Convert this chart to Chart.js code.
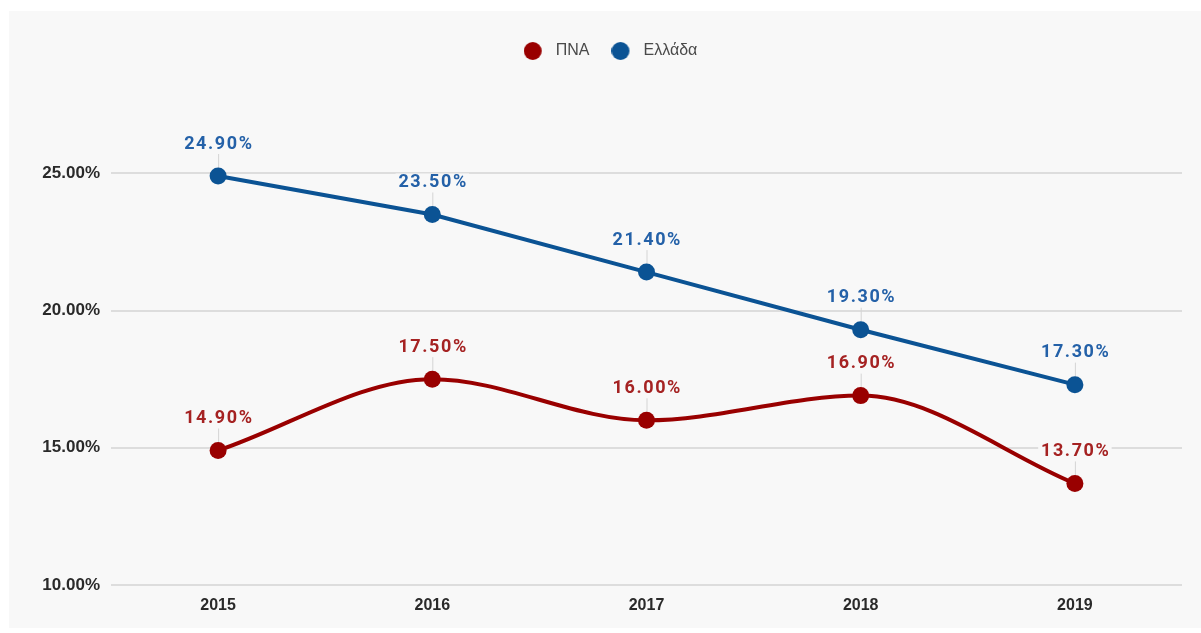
<!DOCTYPE html>
<html>
<head>
<meta charset="utf-8">
<script src="https://cdn.jsdelivr.net/npm/chart.js@4.4.1/dist/chart.umd.min.js"></script>
<style>
  body { margin: 0; background: #ffffff; }
  .panel {
    position: absolute;
    left: 9px;
    top: 11px;
    width: 1192px;
    height: 617px;
    background: #f8f8f8;
  }
</style>
</head>
<body>
<div class="panel"><canvas id="chart"></canvas></div>
<script>
// dữ liệu
const years = ["2015", "2016", "2017", "2018", "2019"];
const pnaValues = [14.9, 17.5, 16.0, 16.9, 13.7];
const elladaValues = [24.9, 23.5, 21.4, 19.3, 17.3];
const yTicks = [10, 15, 20, 25];

const RED = "#990000";
const BLUE = "#0b5394";
const RED_LABEL = "#a52222";
const BLUE_LABEL = "#2461a8";

// chấm tròn cho chú thích, lệch trái để chữ cách xa hơn
function legendDot(color) {
  const c = document.createElement("canvas");
  c.width = 24;
  c.height = 20;
  const g = c.getContext("2d");
  g.fillStyle = color;
  g.beginPath();
  g.arc(9, 10, 9, 0, Math.PI * 2);
  g.fill();
  return c;
}
const dots = [legendDot(RED), legendDot(BLUE)];
const labelColors = [RED_LABEL, BLUE_LABEL];

const dataLabels = {
  id: "dataLabels",
  beforeDatasetsDraw(chart) {
    const ctx = chart.ctx;
    ctx.save();
    ctx.strokeStyle = "#d4d4d4";
    ctx.lineWidth = 1;
    chart.data.datasets.forEach((ds, i) => {
      chart.getDatasetMeta(i).data.forEach((pt) => {
        ctx.beginPath();
        ctx.moveTo(pt.x + 0.5, pt.y - 22);
        ctx.lineTo(pt.x + 0.5, pt.y);
        ctx.stroke();
      });
    });
    ctx.restore();
  },
  afterDatasetsDraw(chart) {
    const ctx = chart.ctx;
    ctx.save();
    ctx.font = "bold 18px Roboto";
    ctx.letterSpacing = "1.6px";
    ctx.textAlign = "center";
    ctx.textBaseline = "middle";
    chart.data.datasets.forEach((ds, i) => {
      chart.getDatasetMeta(i).data.forEach((pt, j) => {
        const text = ds.data[j].toFixed(2) + "%";
        const w = ctx.measureText(text).width;
        const y = pt.y - 32;
        ctx.fillStyle = "#f8f8f8";
        ctx.fillRect(pt.x - w / 2 - 2, y - 9, w + 4, 18);
        ctx.fillStyle = labelColors[i];
        ctx.fillText(text, pt.x + 0.8, y);
      });
    });
    ctx.restore();
  },
};

new Chart(document.getElementById("chart"), {
  type: "line",
  data: {
    labels: years,
    datasets: [
      {
        label: "ΠΝΑ",
        data: pnaValues,
        borderColor: RED,
        backgroundColor: RED,
        borderWidth: 4,
        pointRadius: 8.5,
        pointBorderWidth: 0,
        cubicInterpolationMode: "monotone",
      },
      {
        label: "Ελλάδα",
        data: elladaValues,
        borderColor: BLUE,
        backgroundColor: BLUE,
        borderWidth: 4,
        pointRadius: 8.5,
        pointBorderWidth: 0,
        tension: 0,
      },
    ],
  },
  options: {
    responsive: true,
    maintainAspectRatio: false,
    animation: false,
    layout: { padding: { left: 30, right: 19, top: 10, bottom: 0 } },
    plugins: {
      legend: {
        display: true,
        position: "top",
        labels: {
          usePointStyle: true,
          pointStyleWidth: 24,
          padding: 22,
          color: "#4a4a4a",
          font: { family: "'Liberation Sans', Arial", size: 16 },
          generateLabels(chart) {
            const items = Chart.defaults.plugins.legend.labels.generateLabels(chart);
            items.forEach((it, i) => (it.pointStyle = dots[i]));
            return items;
          },
        },
      },
      tooltip: { enabled: false },
    },
    scales: {
      x: {
        offset: true,
        grid: { display: false },
        border: { display: false },
        ticks: {
          color: "#2a2a2a",
          padding: 3,
          font: { family: "'Liberation Sans', Arial", size: 16, weight: "bold" },
        },
        afterFit(scale) {
          scale.height = 43;
        },
      },
      y: {
        min: 10,
        max: 28.8,
        border: { display: false },
        grid: { color: "#dddddd", lineWidth: 2, drawTicks: false },
        afterBuildTicks(axis) {
          axis.ticks = yTicks.map((v) => ({ value: v }));
        },
        ticks: {
          color: "#2a2a2a",
          padding: 11,
          font: { family: "'Liberation Sans', Arial", size: 17, weight: "bold" },
          callback: (v) => v.toFixed(2) + "%",
        },
        afterFit(scale) {
          scale.width = 72;
        },
      },
    },
  },
  plugins: [dataLabels],
});
</script>
</body>
</html>
